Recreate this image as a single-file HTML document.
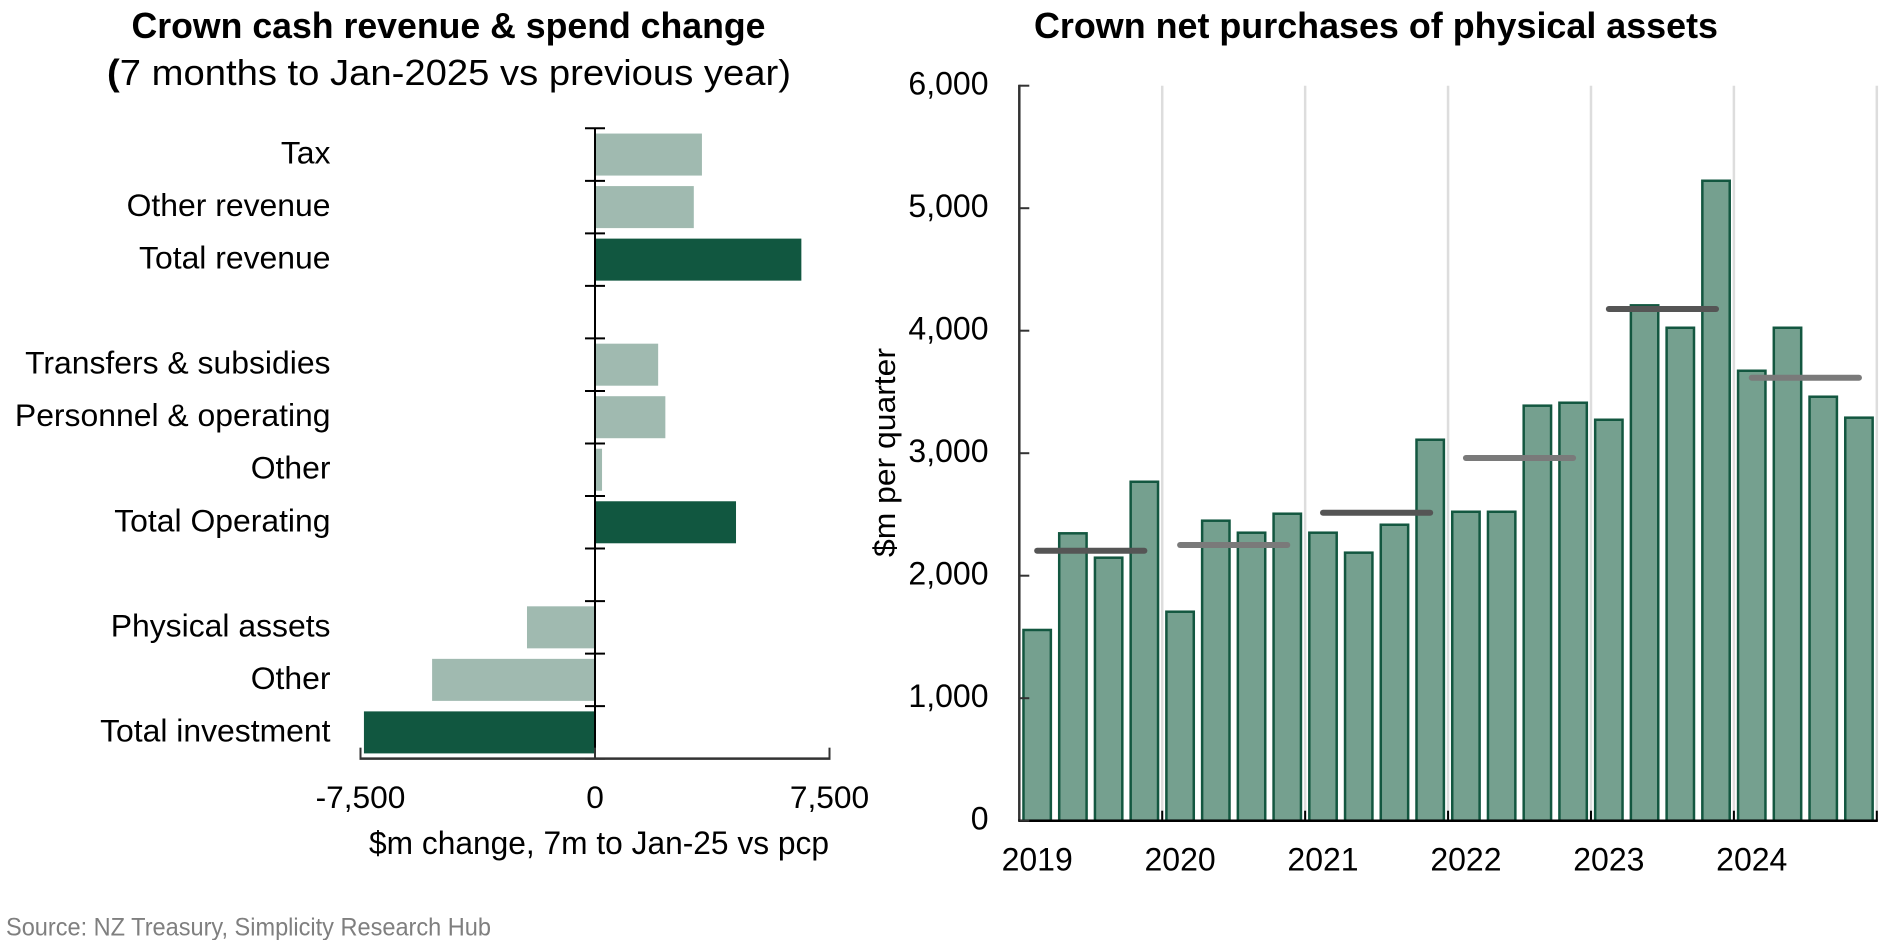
<!DOCTYPE html>
<html lang="en">
<head>
<meta charset="utf-8">
<title>Crown cash revenue and physical asset purchases</title>
<style>
  html, body { margin: 0; padding: 0; background: #fff; }
  svg { display: block; font-family: "Liberation Sans", Arial, sans-serif; }
  text { fill: #000; }
</style>
</head>
<body>
<svg id="figure" xmlns="http://www.w3.org/2000/svg" width="1891" height="940" viewBox="0 0 1891 940">
  <rect width="1891" height="940" fill="#fff"/>
  <text x="131.5" y="38" font-size="36" font-weight="700" textLength="634" lengthAdjust="spacingAndGlyphs">Crown cash revenue &amp; spend change</text>
  <text x="107" y="85" font-size="36" textLength="684" lengthAdjust="spacingAndGlyphs"><tspan font-weight="700">(</tspan>7 months to Jan-2025 vs previous year)</text>
  <text x="1034" y="38" font-size="36" font-weight="700" textLength="684" lengthAdjust="spacingAndGlyphs">Crown net purchases of physical assets</text>
  <text x="369" y="854" font-size="32.5" textLength="460" lengthAdjust="spacingAndGlyphs">$m change, 7m to Jan-25 vs pcp</text>
  <text transform="translate(895 557) rotate(-90)" x="0" y="0" font-size="31" textLength="209" lengthAdjust="spacingAndGlyphs">$m per quarter</text>
  <text x="6" y="935.5" font-size="25" style="fill:#7f7f7f" textLength="485" lengthAdjust="spacingAndGlyphs">Source: NZ Treasury, Simplicity Research Hub</text>
  <g id="left-chart"></g>
  <g id="right-chart"></g>
</svg>
<script>
// Left chart data
const changeCategories = ['Tax', 'Other revenue', 'Total revenue', '', 'Transfers & subsidies', 'Personnel & operating', 'Other', 'Total Operating', '', 'Physical assets', 'Other', 'Total investment'];
const changeValues = [3420, 3160, 6600, null, 2020, 2250, 225, 4510, null, -2175, -5210, -7390];
const changeTicks = [-7500, 0, 7500];

// Right chart data
const quarterValues = [1557, 2346, 2147, 2767, 1706, 2449, 2351, 2506, 2351, 2188, 2416, 3110, 2522, 2522, 3388, 3412, 3273, 4207, 4024, 5224, 3673, 4024, 3461, 3290];
const yearLabels = ['2019', '2020', '2021', '2022', '2023', '2024'];
const yearAverages = [2204, 2251, 2514, 2961, 4177, 3616];
const purchaseTicks = [0, 1000, 2000, 3000, 4000, 5000, 6000];

const NS = 'http://www.w3.org/2000/svg';
function mk(parent, tag, attrs, txt) {
  const el = document.createElementNS(NS, tag);
  for (const k in attrs) el.setAttribute(k, attrs[k]);
  if (txt !== undefined) el.textContent = txt;
  parent.appendChild(el);
  
  return el;
}
function fmt(v) {
  const s = String(Math.abs(v)).replace(/\B(?=(\d{3})+$)/g, ',');
  return (v < 0 ? '-' : '') + s;
}

// ---------- Left chart ----------
const L = document.getElementById('left-chart');
const lZero = 595, lHalf = 234.5, lTop = 128.3, lBand = 52.53;
const lBottom = lTop + lBand * changeCategories.length;
const xL = v => lZero + v * lHalf / changeTicks[2];
const yL = i => lTop + i * lBand;

changeValues.forEach((v, i) => {
  if (v === null) return;
  const total = changeCategories[i].indexOf('Total') === 0;
  const bar = mk(L, 'rect', {
    x: Math.min(xL(v), xL(0)), y: yL(i) + lBand * 0.1,
    width: Math.abs(xL(v) - xL(0)), height: lBand * 0.8,
    fill: total ? '#115740' : '#a0bab0'
  });
  
});
changeCategories.forEach((c, i) => {
  if (!c) return;
  const label = mk(L, 'text', { x: 330.5, y: yL(i) + lBand / 2 + 9, 'text-anchor': 'end', 'font-size': 31.9 }, c);
  
});
for (let i = 0; i <= changeCategories.length; i++) {
  const tick = mk(L, 'line', { x1: lZero - 10, x2: lZero + 10, y1: yL(i), y2: yL(i), stroke: '#000', 'stroke-width': 2 });
  
}
const lAxisY = mk(L, 'line', { x1: lZero, x2: lZero, y1: lTop, y2: lBottom, stroke: '#000', 'stroke-width': 2 });

const lAxisX = mk(L, 'line', { x1: xL(changeTicks[0]) - 1, x2: xL(changeTicks[2]) + 1, y1: lBottom, y2: lBottom, stroke: '#333', 'stroke-width': 2.5 });

changeTicks.forEach(v => {
  const tick = mk(L, 'line', { x1: xL(v), x2: xL(v), y1: lBottom - 11, y2: lBottom, stroke: '#333', 'stroke-width': 2 });
  
  const label = mk(L, 'text', { x: xL(v), y: 808, 'text-anchor': 'middle', 'font-size': 31.7 }, fmt(v));
  
});

// ---------- Right chart ----------
const R = document.getElementById('right-chart');
const rLeft = 1019.3, rBand = 35.73, rZero = 820.7, rPerUnit = 0.1225;
const xR = i => rLeft + i * rBand;
const yR = v => rZero - v * rPerUnit;
const rTop = yR(purchaseTicks[purchaseTicks.length - 1]);

yearLabels.forEach((y, i) => {
  const grid = mk(R, 'line', { x1: xR((i + 1) * 4), x2: xR((i + 1) * 4), y1: rTop, y2: rZero, stroke: '#dddddd', 'stroke-width': 2.5 });
  
});
quarterValues.forEach((v, i) => {
  const bar = mk(R, 'rect', {
    x: xR(i) + rBand * 0.1 + 0.6, y: yR(v), width: rBand * 0.8 - 1.2, height: rZero - yR(v),
    fill: '#75a08f', stroke: '#135740', 'stroke-width': 2.5
  });
  
});
yearAverages.forEach((v, i) => {
  const avg = mk(R, 'line', {
    x1: xR(i * 4) + rBand / 2, x2: xR(i * 4 + 3) + rBand / 2, y1: yR(v), y2: yR(v),
    stroke: i % 2 ? '#7a7a7a' : '#555555', 'stroke-width': 6, 'stroke-linecap': 'round'
  });
  
});
const rAxisY = mk(R, 'line', { x1: rLeft, x2: rLeft, y1: rTop - 1, y2: rZero, stroke: '#333', 'stroke-width': 2.5 });

const rAxisX = mk(R, 'line', { x1: rLeft - 1, x2: xR(quarterValues.length) + 1, y1: rZero, y2: rZero, stroke: '#000', 'stroke-width': 2.5 });

purchaseTicks.forEach(v => {
  const tick = mk(R, 'line', { x1: rLeft, x2: rLeft + 10, y1: yR(v), y2: yR(v), stroke: '#333', 'stroke-width': 2 });
  
  const label = mk(R, 'text', { x: 988.5, y: yR(v) + 9, 'text-anchor': 'end', 'font-size': 32 }, fmt(v));
  
});
yearLabels.forEach((y, i) => {
  const tick = mk(R, 'line', { x1: xR((i + 1) * 4), x2: xR((i + 1) * 4), y1: rZero - 10, y2: rZero, stroke: '#000', 'stroke-width': 2 });
  
  const label = mk(R, 'text', { x: xR(i * 4) + rBand / 2, y: 870.5, 'text-anchor': 'middle', 'font-size': 32 }, y);
  
});
</script>
</body>
</html>
